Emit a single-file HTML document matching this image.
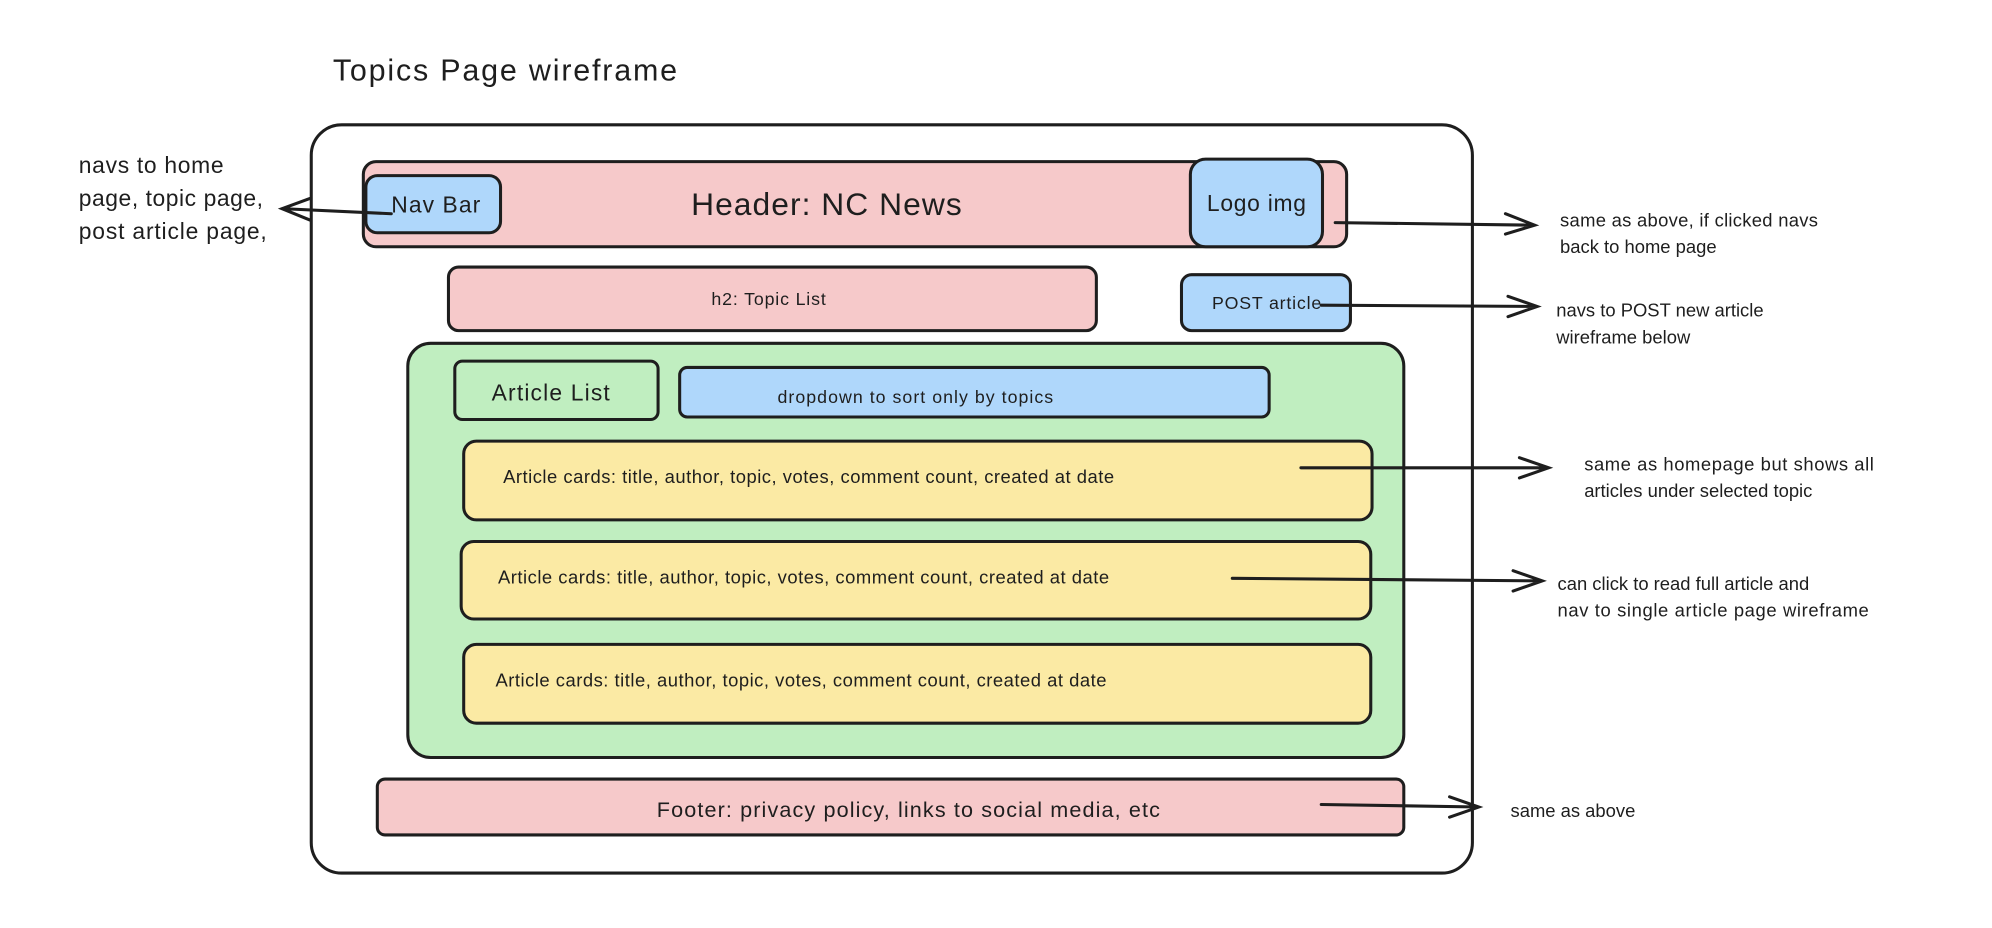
<!DOCTYPE html>
<html><head><meta charset="utf-8"><style>
html,body{margin:0;padding:0;background:#fff;width:1992px;height:928px;overflow:hidden}
svg{display:block}
text{font-family:"Liberation Sans",sans-serif;fill:#1e1e1e}
</style></head><body>
<svg width="1992" height="928" viewBox="0 0 1568 730" xmlns="http://www.w3.org/2000/svg">
<g stroke="#1e1e1e" stroke-width="2.4" fill="none" stroke-linecap="round">
<rect x="245" y="98" width="914" height="589" rx="24" fill="#fff"/>
<rect x="286" y="127" width="774" height="67" rx="10" fill="#f6c9ca"/>
<rect x="288" y="138" width="106" height="45" rx="9" fill="#afd7fb"/>
<rect x="937" y="125" width="104" height="69" rx="12" fill="#afd7fb"/>
<rect x="353" y="210" width="510" height="50" rx="8" fill="#f6c9ca"/>
<rect x="930" y="216" width="133" height="44" rx="8" fill="#afd7fb"/>
<rect x="321" y="270" width="784" height="326" rx="18" fill="#c0eec0"/>
<rect x="358" y="284" width="160" height="46" rx="6" fill="#c0eec0"/>
<rect x="535" y="289" width="464" height="39" rx="6" fill="#afd7fb"/>
<rect x="365" y="347" width="715" height="62" rx="10" fill="#fbeaa4"/>
<rect x="363" y="426" width="716" height="61" rx="10" fill="#fbeaa4"/>
<rect x="365" y="507" width="714" height="62" rx="10" fill="#fbeaa4"/>
<rect x="297" y="613" width="808" height="44" rx="6" fill="#f6c9ca"/>
<path d="M308 168 L222 164 M244 156 L222 164 L244 173"/>
<path d="M1051 175 L1208 177 M1185 168 L1208 177 L1185 184"/>
<path d="M1040 240 L1210 241 M1187 233 L1210 241 L1187 249"/>
<path d="M1024 368 L1219 368 M1196 360 L1219 368 L1196 376"/>
<path d="M970 455 L1214 457 M1191 449 L1214 457 L1191 465"/>
<path d="M1040 633 L1164 635 M1141 627 L1164 635 L1141 643"/>
</g>
<text x="262" y="63" font-size="24" textLength="271">Topics Page wireframe</text>
<text x="62" y="136" font-size="18" textLength="114">navs to home</text>
<text x="62" y="162" font-size="18" textLength="145">page, topic page,</text>
<text x="62" y="188" font-size="18" textLength="148">post article page,</text>
<text x="308" y="167" font-size="18" textLength="70">Nav Bar</text>
<text x="544" y="169" font-size="25" textLength="213">Header: NC News</text>
<text x="950" y="166" font-size="18" textLength="78">Logo img</text>
<text x="560" y="240" font-size="14" textLength="90">h2: Topic List</text>
<text x="954" y="243" font-size="14" textLength="86">POST article</text>
<text x="387" y="315" font-size="18" textLength="93">Article List</text>
<text x="612" y="317" font-size="14" textLength="217">dropdown to sort only by topics</text>
<text x="396" y="380" font-size="14.5" textLength="481">Article cards: title, author, topic, votes, comment count, created at date</text>
<text x="392" y="459" font-size="14.5" textLength="481">Article cards: title, author, topic, votes, comment count, created at date</text>
<text x="390" y="540" font-size="14.5" textLength="481">Article cards: title, author, topic, votes, comment count, created at date</text>
<text x="517" y="643" font-size="17" textLength="396">Footer: privacy policy, links to social media, etc</text>
<g font-size="14.5">
<text x="1228" y="178" textLength="203">same as above, if clicked navs</text>
<text x="1228" y="199">back to home page</text>
<text x="1225" y="249">navs to POST new article</text>
<text x="1225" y="270">wireframe below</text>
<text x="1247" y="370" textLength="228">same as homepage but shows all</text>
<text x="1247" y="391">articles under selected topic</text>
<text x="1226" y="464">can click to read full article and</text>
<text x="1226" y="485" textLength="245">nav to single article page wireframe</text>
<text x="1189" y="643">same as above</text>
</g>
</svg>
</body></html>
